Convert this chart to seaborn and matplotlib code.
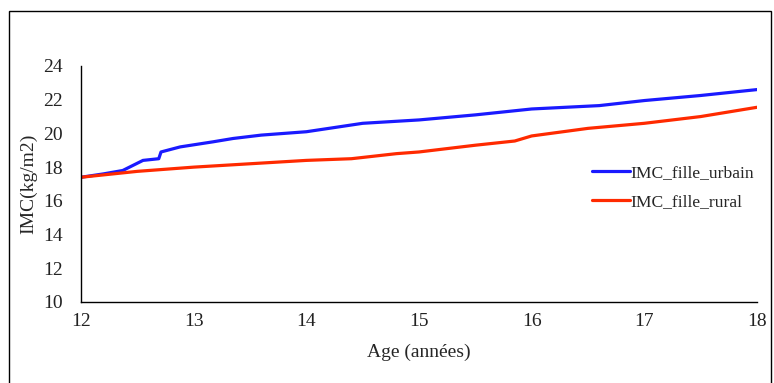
import pandas as pd
import seaborn as sns
import matplotlib.pyplot as plt
from matplotlib.patches import Rectangle

# values
age_urbain = [12.0, 12.2, 12.37, 12.55, 12.69, 12.71, 12.88, 13.17, 13.35, 13.6,
              14.0, 14.3, 14.5, 15.0, 15.5, 16.0, 16.6, 17.0, 17.5, 18.0]
imc_urbain = [17.4, 17.6, 17.8, 18.4, 18.5, 18.9, 19.2, 19.5, 19.7, 19.9,
              20.1, 20.4, 20.6, 20.8, 21.1, 21.45, 21.65, 21.95, 22.25, 22.6]

age_rural = [12.0, 12.5, 13.0, 13.5, 14.0, 14.4, 14.8, 15.0, 15.5, 15.85,
             16.0, 16.5, 17.0, 17.5, 18.0]
imc_rural = [17.4, 17.75, 18.0, 18.2, 18.4, 18.5, 18.8, 18.9, 19.3, 19.55,
             19.85, 20.3, 20.6, 21.0, 21.55]

series_names = ['IMC_fille_urbain', 'IMC_fille_rural']
x_ticks = [12, 13, 14, 15, 16, 17, 18]
y_ticks = [10, 12, 14, 16, 18, 20, 22, 24]

df = pd.concat([
    pd.DataFrame({'Age': age_urbain, 'IMC': imc_urbain, 'Serie': series_names[0]}),
    pd.DataFrame({'Age': age_rural, 'IMC': imc_rural, 'Serie': series_names[1]}),
])

sns.set_style('white')
plt.rcParams['font.family'] = ['Liberation Serif', 'DejaVu Serif']

fig = plt.figure(figsize=(7.74, 3.83), dpi=100)
ax = fig.add_axes([0.1047, 0.2115, 0.8733, 0.6162])

sns.lineplot(data=df, x='Age', y='IMC', hue='Serie', palette=['#1a1aff', '#ff2a00'],
             linewidth=2.3, estimator=None, sort=False, ax=ax)

ax.set_xlim(12, 18)
ax.set_ylim(10, 24)
ax.set_xticks(x_ticks)
ax.set_yticks(y_ticks)
ax.tick_params(axis='y', length=0, labelsize=14, colors='#222222', pad=13)
ax.tick_params(axis='x', length=0, labelsize=14, colors='#222222', pad=8)
ax.set_xlabel('Age (années)', fontsize=14, labelpad=10)
ax.set_ylabel('IMC(kg/m2)', fontsize=14, labelpad=4)

sns.despine(ax=ax)
for s in ['left', 'bottom']:
    ax.spines[s].set_color('black')
    ax.spines[s].set_linewidth(1.0)

leg = ax.legend(loc='center left', frameon=False, fontsize=12.6, handlelength=2.17,
                handletextpad=0.0, labelspacing=0.73, borderpad=0, borderaxespad=0)
leg.set_bbox_to_anchor((592 / 774, 1 - 187.5 / 383), transform=fig.transFigure)
for line in leg.get_lines():
    line.set_linewidth(2.3)

# outer frame around the figure
fig.patches.append(Rectangle((9 / 774, -0.01), 762 / 774, 1 - 11 / 383 + 0.01,
                             transform=fig.transFigure, fill=False,
                             edgecolor='black', linewidth=1.0))

fig.savefig('out.png', dpi=100)
